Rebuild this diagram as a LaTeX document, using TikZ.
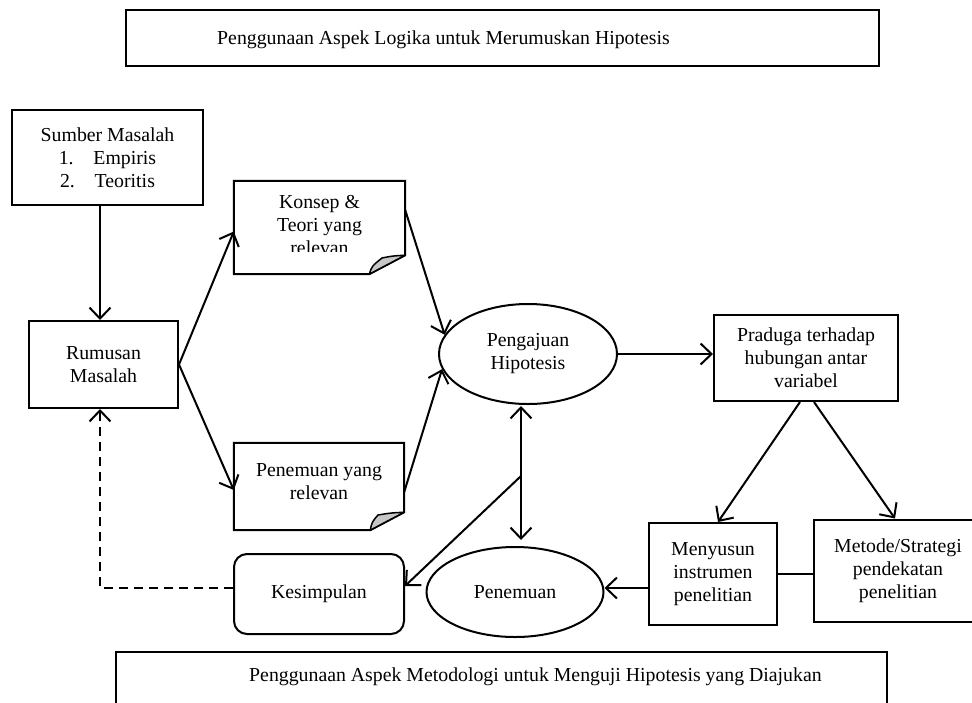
\documentclass[tikz,border=0pt]{standalone}
\usepackage{fontspec}
\setmainfont{Liberation Serif}
\usetikzlibrary{arrows.meta,shapes.geometric,calc}
\tikzset{
  txt/.style={font=\fontsize{19.8}{23}\selectfont, align=center, inner sep=0pt},
  box/.style={txt, draw, line width=2pt, rectangle},
  oval/.style={txt, draw, line width=2pt, ellipse, inner sep=0pt},
  ln/.style={line width=2pt},
  arr/.style={line width=2pt, -{Straight Barb[length=11pt,width=21pt,line width=2pt]}},
  darr/.style={line width=2pt, {Straight Barb[length=11pt,width=21pt,line width=2pt]}-{Straight Barb[length=11pt,width=21pt,line width=2pt]}},
  flap/.style={fill=black!22, draw, line width=1.5pt, line join=round},
}
\begin{document}
\begin{tikzpicture}[x=1pt,y=-1pt]
\useasboundingbox (0,0) rectangle (972,702);
\fill[white] (0,0) rectangle (972,702);
% title boxes
\node[box, line width=2.6pt, minimum width=753pt, minimum height=56pt] (top) at (502.5,38) {};
\node[txt, anchor=west] (toptext) at (217,40) {Penggunaan Aspek Logika untuk Merumuskan Hipotesis};
\node[box, line width=2.6pt, minimum width=771pt, minimum height=80pt] (bot) at (501.5,692) {};
\node[txt, anchor=west] (bottext) at (249,677) {Penggunaan Aspek Metodologi untuk Menguji Hipotesis yang Diajukan};
% left column
\node[box, minimum width=191pt, minimum height=95pt] (sumber) at (107.5,157.5) {Sumber Masalah\\1.\hspace{1em}Empiris\\2.\hspace{1em}Teoritis};
\node[box, minimum width=149pt, minimum height=87pt] (rumusan) at (103.5,364.5) {Rumusan\\Masalah};
\coordinate (xl) at (100,0);
% Konsep (folded note, last line cut)
\node[txt, minimum width=171pt, minimum height=93pt] (konsep) at (319.5,227.5) {};
\draw[ln, line join=miter] (konsep.north west) -- (konsep.north east) -- ([yshift=19pt]konsep.south east) -- ([xshift=-36pt]konsep.south east) -- (konsep.south west) -- cycle;
\draw[flap] ([xshift=-36pt]konsep.south east) .. controls (372,266) .. (382,258) .. controls (392,256) .. ([yshift=19pt]konsep.south east) -- cycle;
\begin{scope}
\clip (234,181) rectangle (405,251);
\node[txt] (konseptext) at (319.5,225) {Konsep \&\\Teori yang\\relevan};
\end{scope}
% Penemuan yang relevan (folded note)
\node[txt, minimum width=170pt, minimum height=87pt] (penrel) at (319,486.5) {};
\draw[ln, line join=miter] (penrel.north west) -- (penrel.north east) -- ([yshift=18pt]penrel.south east) -- ([xshift=-34pt]penrel.south east) -- (penrel.south west) -- cycle;
\draw[flap] ([xshift=-34pt]penrel.south east) .. controls (372,522) .. (378,515) .. controls (390,513) .. ([yshift=18pt]penrel.south east) -- cycle;
\node[txt] (penreltext) at (319,481.5) {Penemuan yang\\relevan};
\node[box, rounded corners=13pt, minimum width=170pt, minimum height=80pt] (kesimpulan) at (319,594) {Kesimpulan};
% centre
\node[oval, minimum width=178pt, minimum height=100pt] (pengajuan) at (528,354) {Pengajuan\\Hipotesis};
\node[oval, minimum width=177pt, minimum height=90pt] (penemuan) at (515,592) {Penemuan};
\coordinate (xd) at (521,0);
\coordinate (br) at (521,476);
% right
\node[box, minimum width=184pt, minimum height=86pt] (praduga) at (806,358) {Praduga terhadap\\hubungan antar\\variabel};
\node[box, minimum width=128pt, minimum height=102pt] (menyusun) at (713,574) {Menyusun\\instrumen\\penelitian};
\node[box, minimum width=168pt, minimum height=102pt] (metode) at (898,570.5) {Metode/Strategi\\pendekatan\\penelitian};
% connectors
\draw[arr] (sumber.south -| xl) -- (rumusan.north -| xl);
\draw[arr] (rumusan.east) -- ([yshift=-4pt]konsep.west);
\draw[arr] (rumusan.east) -- ([yshift=-3.5pt]penrel.west);
\draw[arr] ([yshift=17.5pt]konsep.east) -- (pengajuan.167);
\draw[arr] ([yshift=-5.5pt]penrel.east) -- (pengajuan.190);
\draw[arr] (pengajuan.east) -- (pengajuan.east -| praduga.west);
\draw[arr] ([xshift=-6pt]praduga.south) -- ([xshift=5pt]menyusun.north);
\draw[arr] ([xshift=8pt]praduga.south) -- ([xshift=-3pt]metode.north);
\draw[ln] (menyusun.east) -- (menyusun.east -| metode.west);
\draw[arr] ([yshift=-14pt]menyusun.west) -- ([yshift=-14pt]menyusun.west -| penemuan.east);
\draw[darr] ([yshift=-1pt]pengajuan.south -| xd) -- ([yshift=6pt]penemuan.north -| xd);
\draw[arr] (br) -- ([yshift=8pt]kesimpulan.east);
\draw[arr, dash pattern=on 9pt off 6pt] ([yshift=6pt]kesimpulan.west) -- ([yshift=6pt]kesimpulan.west -| xl) -- (rumusan.south -| xl);
\end{tikzpicture}
\end{document}
